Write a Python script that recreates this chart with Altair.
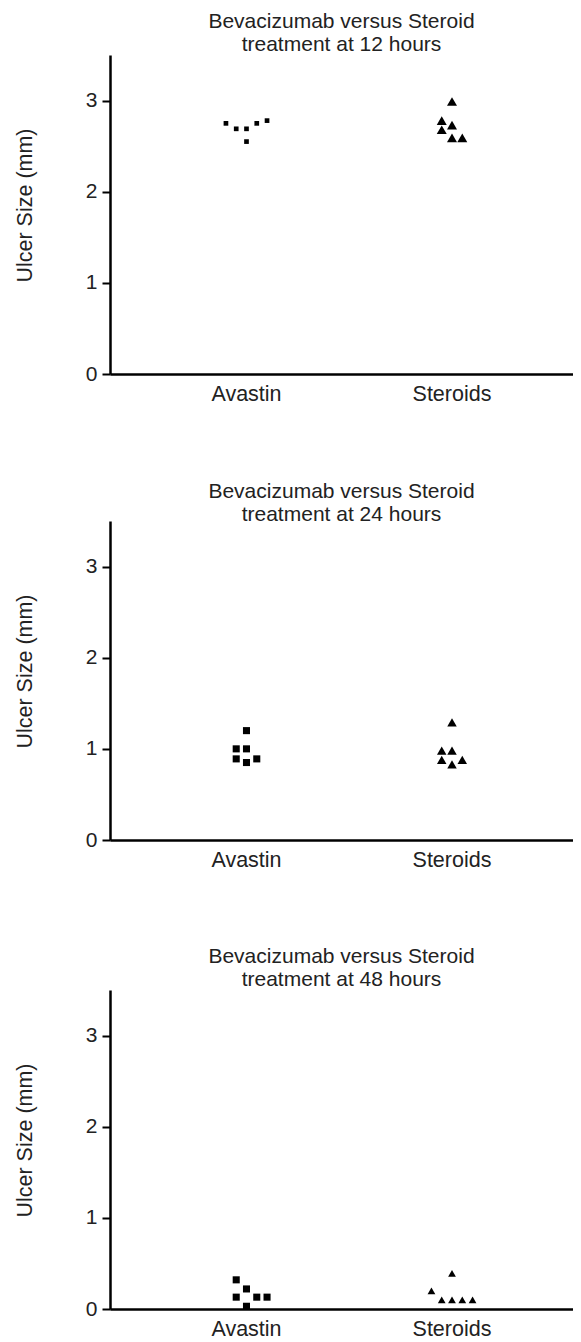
import altair as alt
import pandas as pd

# ---- data ----
groups = ["Avastin", "Steroids"]
hours = [12, 24, 48]

avastin_12 = [2.75, 2.69, 2.69, 2.55, 2.75, 2.78]
avastin_12_slot = [-2, -1, 0, 0, 1, 2]
steroids_12 = [2.99, 2.78, 2.73, 2.68, 2.59, 2.59]
steroids_12_slot = [0, -1, 0, -1, 0, 1]

avastin_24 = [1.20, 1.00, 1.00, 0.89, 0.85, 0.89]
avastin_24_slot = [0, -1, 0, -1, 0, 1]
steroids_24 = [1.29, 0.98, 0.98, 0.88, 0.83, 0.88]
steroids_24_slot = [0, -1, 0, -1, 0, 1]

avastin_48 = [0.32, 0.22, 0.13, 0.13, 0.13, 0.03]
avastin_48_slot = [-1, 0, -1, 1, 2, 0]
steroids_48 = [0.39, 0.20, 0.10, 0.10, 0.10, 0.10]
steroids_48_slot = [0, -2, -1, 0, 1, 2]

y_ticks = [0, 1, 2, 3]

FONT = "Liberation Sans"
TXT = "#222222"


def frame(a_vals, a_slots, s_vals, s_slots):
    rows = []
    for v, s in zip(a_vals, a_slots):
        rows.append({"group": "Avastin", "value": v, "slot": s})
    for v, s in zip(s_vals, s_slots):
        rows.append({"group": "Steroids", "value": v, "slot": s})
    return pd.DataFrame(rows)


def panel(hour, a_vals, a_slots, s_vals, s_slots, sq_size, tri_size, t_off):
    df = frame(a_vals, a_slots, s_vals, s_slots)
    x = alt.X(
        "group:N",
        scale=alt.Scale(domain=groups, paddingInner=0, paddingOuter=0.1265, align=0.649),
        axis=alt.Axis(title=None, labelAngle=0, ticks=False, tickSize=0, labelPadding=9,
                      labelFontSize=21.5, labelFont=FONT, labelColor=TXT,
                      domainColor="black", domainWidth=2.5),
    )
    xo = alt.XOffset("slot:O", scale=alt.Scale(domain=list(range(-10, 11)), paddingInner=0, paddingOuter=0))
    y = alt.Y(
        "value:Q",
        scale=alt.Scale(domain=[0, 3.5], nice=False, zero=True),
        axis=alt.Axis(values=y_ticks, title="Ulcer Size (mm)", grid=False,
                      labelFontSize=21, labelFont=FONT, labelColor=TXT, labelPadding=5,
                      tickSize=8, tickWidth=2, tickColor="black",
                      domainColor="black", domainWidth=2.5,
                      titleFontSize=21.5, titleFont=FONT, titleColor=TXT, titleFontWeight="normal",
                      titleAngle=270, titleX=-85, titleY=150, titleAlign="center",
                      titleBaseline="middle"),
    )
    sq = alt.Chart(df).transform_filter(alt.datum.group == "Avastin").mark_point(
        shape="square", filled=True, color="black", opacity=1, size=sq_size
    ).encode(x=x, xOffset=xo, y=y)
    tri = alt.Chart(df).transform_filter(alt.datum.group == "Steroids").mark_point(
        shape="triangle-up", filled=True, color="black", opacity=1, size=tri_size
    ).encode(x=x, xOffset=xo, y=y)
    return alt.layer(sq, tri).properties(
        width=463, height=319,
        title=alt.TitleParams(
            text=["Bevacizumab versus Steroid", f"treatment at {hour} hours"],
            fontSize=21, lineHeight=23, font=FONT, color=TXT, fontWeight="normal",
            anchor="middle", offset=t_off,
        ),
    )


p1 = panel(hours[0], avastin_12, avastin_12_slot, steroids_12, steroids_12_slot, 22, 100, 0)
p2 = panel(hours[1], avastin_24, avastin_24_slot, steroids_24, steroids_24_slot, 50, 90, -3.5)
p3 = panel(hours[2], avastin_48, avastin_48_slot, steroids_48, steroids_48_slot, 50, 60, 0)

chart = alt.vconcat(p1, p2, p3, spacing=75).properties(
    padding={"left": 6, "top": 3, "right": 0, "bottom": 0},
    background="white",
).configure_view(strokeWidth=0)

chart.save("out.html", embed_options={"renderer": "svg", "actions": False})
